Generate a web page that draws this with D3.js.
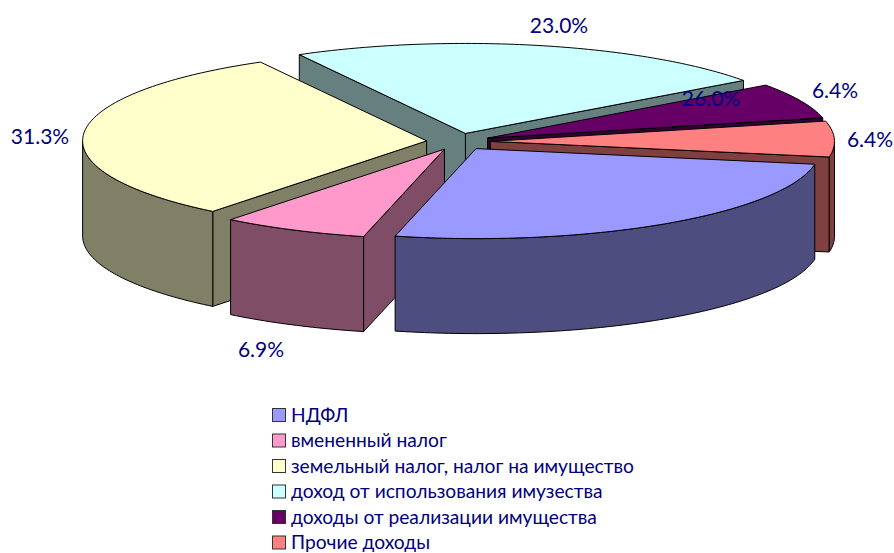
<!DOCTYPE html>
<html><head><meta charset="utf-8">
<script src="https://cdn.jsdelivr.net/npm/d3@7"></script>
<style>html,body{margin:0;padding:0;background:#fff;overflow:hidden}svg{display:block}text{font-family:Lato,"Open Sans",sans-serif;fill:#000080}</style>
</head><body><svg id="c" width="894" height="553"></svg>
<script>
const categories=["НДФЛ","вмененный налог","земельный налог, налог на имущество","доход от использования имузества","доходы от реализации имущества","Прочие доходы"];
const values=[26.0,6.9,31.3,23.0,6.4,6.4];
const colors=["#9999ff","#ff99cc","#ffffcc","#ccffff","#660066","#ff8080"];
const wallColors=["#4d4d80","#804d66","#808066","#668080","#330033","#804040"];
const drawOrder=[3,4,5,2,1,0];

const W=894,H=553,cx=458.5,cy=141.6,rx=344,ry=90,depth=95,explode=0.093,startDeg=10;
const labelPos=[[711,97],[261,348],[40,135],[559,24],[835,89],[870,138]];
const svg=d3.select("#c");
const rad=Math.PI/180;
const pie=d3.pie().sort(null).value(d=>d).startAngle(startDeg*rad).endAngle((startDeg+360)*rad);
const arcs=pie(values);
const X=d3.scaleLinear().domain([-1,1]).range([cx-rx,cx+rx]);
const Y=d3.scaleLinear().domain([-1,1]).range([cy-ry,cy+ry]);
const line=d3.line().x(d=>d[0]).y(d=>d[1]);
function samples(a,b){const n=Math.max(2,Math.ceil((b-a)/(1*rad)));return d3.range(n+1).map(i=>a+(b-a)*i/n);}
drawOrder.forEach(i=>{
  const a=arcs[i],a0=a.startAngle,a1=a.endAngle,mid=(a0+a1)/2;
  const g=svg.append("g");
  const apex=[X(explode*Math.cos(mid)),Y(explode*Math.sin(mid))];
  const rim=(t,dz)=>{const p=[X(explode*Math.cos(mid)+Math.cos(t)),Y(explode*Math.sin(mid)+Math.sin(t))];return [p[0],p[1]+(dz||0)];};
  const wall=pts=>g.append("path").attr("d",line(pts)+"Z").attr("fill",wallColors[i]).attr("stroke","#000").attr("stroke-width",1).attr("stroke-linejoin","round");
  const rw=t=>wall([apex,rim(t),rim(t,depth),[apex[0],apex[1]+depth]]);
  if(Math.cos(a1)>0) rw(a1);
  if(Math.cos(a0)<0) rw(a0);
  [[0,Math.PI],[2*Math.PI,3*Math.PI]].forEach(([lo,hi])=>{
    const s=Math.max(a0,lo),e=Math.min(a1,hi);
    if(e>s){const top=samples(s,e).map(t=>rim(t));const bot=samples(s,e).reverse().map(t=>rim(t,depth));wall(top.concat(bot));}
  });
  const ring=samples(a0,a1).map(t=>rim(t));
  g.append("path").attr("d",line([apex].concat(ring))+"Z").attr("fill",colors[i]).attr("stroke","#000").attr("stroke-width",1).attr("stroke-linejoin","round");
});
svg.append("g").selectAll("text").data(values).join("text")
 .attr("x",(d,i)=>labelPos[i][0]).attr("y",(d,i)=>labelPos[i][1])
 .attr("text-anchor","middle").attr("dominant-baseline","central").attr("font-size",21)
 .text(d=>d3.format(".1f")(d)+"%");
const ly=d3.scalePoint().domain(categories).range([415,542.5]);
const lg=svg.append("g").selectAll("g").data(categories).join("g").attr("transform",d=>`translate(272,${ly(d)})`);
lg.append("rect").attr("x",0.5).attr("y",-6.5).attr("width",13).attr("height",13).attr("fill",(d,i)=>colors[i]).attr("stroke","#333").attr("stroke-width",1);
lg.append("text").attr("x",19).attr("y",-1).attr("dominant-baseline","central").attr("font-size",19.2).text(d=>d);
</script></body></html>
